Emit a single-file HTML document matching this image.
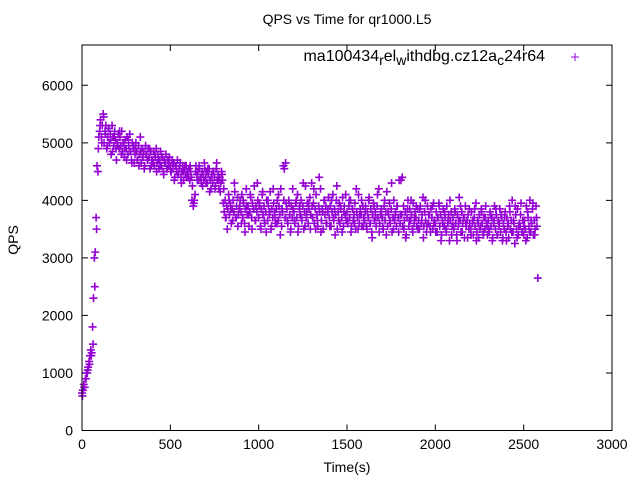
<!DOCTYPE html>
<html><head><meta charset="utf-8"><style>
html,body{margin:0;padding:0;background:#fff}
svg{display:block;font-family:"Liberation Sans",sans-serif}
</style></head><body>
<svg id="chart" width="640" height="480">
<text x="347" y="24" text-anchor="middle" font-size="14">QPS vs Time for qr1000.L5</text>
<text transform="translate(18,240) rotate(-90)" text-anchor="middle" font-size="14">QPS</text>
<text x="347" y="472" text-anchor="middle" font-size="14">Time(s)</text>
<g id="axes"></g>
<g id="points"></g>
<g>
<text x="545" y="61" text-anchor="end" font-size="16">ma100434<tspan font-size="14" dy="4">r</tspan><tspan dy="-4">el</tspan><tspan font-size="14" dy="4">w</tspan><tspan dy="-4">ithdbg.cz12a</tspan><tspan font-size="14" dy="4">c</tspan><tspan dy="-4">24r64</tspan></text>
<path d="M571,57h8M575,53v8" stroke="#9400d3" stroke-width="1"/>
</g>
<rect x="82" y="45" width="530" height="385.5" fill="none" stroke="#000" stroke-width="1"/>
</svg>
<script>
const xTicks=[0,500,1000,1500,2000,2500,3000];
const yTicks=[0,1000,2000,3000,4000,5000,6000];
const timeStep=5;
const qps=[
650,700,800,750,900,1000,1000,1100,1200,1300,1400,1350,1800,2300,3000,3100,3700,4600,4500,5100,
5200,5400,5100,5300,5500,5000,5200,5300,4900,5100,5250,5000,5150,4800,5300,5100,4950,5200,5050,4700,
5000,5150,4900,5100,4950,5200,4850,5000,4750,5050,4900,5100,4800,4950,5150,4850,4700,5000,4900,4650,
4800,5000,4850,4700,4950,4800,5100,4650,4900,4750,4850,4600,4950,4800,4700,4900,4750,4550,4850,4700,
4700,4850,4600,4750,4900,4650,4800,4550,4700,4850,4600,4750,4500,4700,4650,4800,4550,4700,4600,4750,
4600,4500,4700,4550,4650,4400,4600,4500,4700,4450,4550,4650,4400,4500,4600,4350,4550,4450,4600,4500,
4450,4550,4350,4500,4400,4250,3900,4000,4100,4600,4450,4500,4350,4550,4400,4300,4500,4450,4350,4550,
4400,4500,4300,4450,4550,4350,4200,4450,4300,4500,4400,4250,4550,4350,4450,4200,4400,4300,4500,4350,
3950,3800,4000,3700,3900,3850,4100,3750,3950,3600,3850,4000,3800,4150,3700,3900,4050,3750,3850,4000,
3800,4100,3700,3950,3600,3850,4200,3750,3900,3550,3800,4050,3700,3950,3850,4250,3650,3900,3800,4000,
3700,3950,3550,3850,4100,3750,3900,3600,3800,4000,3650,3900,3750,4150,3500,3850,3700,3950,3800,3600,
3850,4000,3650,3900,3750,4200,3550,3800,4600,4550,3700,3950,3850,3600,4000,3750,3450,3900,3700,3850,
3800,3600,3950,3700,4100,3550,3850,3750,4000,3650,3900,3500,3800,4250,3700,3950,3600,3850,4050,3750,
4300,3700,3950,3600,3850,4100,3750,3550,3900,3800,4200,3650,3850,3500,4000,3750,3900,3600,3800,4050,
3700,3900,3550,3800,4100,3650,3850,3750,4000,3500,3800,3950,3600,3850,3700,4050,3550,3900,3750,3650,
3800,3600,3900,3700,4000,3550,3850,3650,3750,3950,3500,3800,3700,4100,3600,3850,3750,3550,3900,3700,
3650,3900,3550,3800,3700,4050,3600,3850,3450,3750,3950,3650,3800,3550,3900,3700,4200,3600,3750,3850,
3700,3500,3900,3650,3800,4150,3550,3750,3950,3600,3850,3450,3700,4000,3650,3800,3550,3900,3700,4350,
3600,4350,3750,3550,3900,3650,3800,3400,3700,4000,3550,3850,3650,3750,3500,3950,3600,3800,3700,3550,
3850,3650,3500,3900,3600,3750,4050,3550,3800,3650,3450,3900,3600,3750,3550,3850,3700,3500,3950,3650,
3600,3800,3450,3700,3950,3550,3750,3400,3650,3850,3550,3700,3500,3900,3600,3750,3300,3650,3800,3550,
3700,3500,3850,3600,3400,3750,3550,4050,3650,3450,3800,3600,3700,3350,3900,3550,3650,3750,3500,3600,
3500,3800,3600,3400,3700,3550,3950,3450,3650,3350,3750,3550,3850,3600,3450,3700,3500,3900,3600,3400,
3650,3450,3800,3550,3700,3350,3600,3900,3500,3750,3400,3650,3550,3850,3450,3700,3300,3600,3500,3800,
3450,3700,3550,3350,3900,3500,3650,4000,3450,3600,3250,3750,3500,3850,3400,3600,3550,3950,3450,3650,
3400,3650,3500,3900,3350,3700,3550,4000,3450,3600,3850,3400,3650,3500,3900,3550,2650
];
const timeStep2=10;
const timeOffset2=2.5;
const qps2=[
600,750,900,1050,1150,1300,1500,2500,3500,4900,
5300,5000,5450,5150,4950,5250,5050,4850,5100,4900,
4950,5200,4800,5000,4900,4700,5050,4850,4650,4950,
4900,4700,4600,4850,4750,4550,4800,4700,4900,4600,
4650,4800,4500,4700,4600,4750,4450,4650,4550,4700,
4500,4650,4350,4600,4450,4550,4300,4500,4600,4400,
4400,4600,4000,3950,4500,4350,4600,4400,4250,4650,
4300,4550,4150,4400,4500,4200,4650,4350,4150,4450,
4200,3700,3500,4000,3850,3650,4300,3700,3550,3900,
3600,4000,3450,3900,3750,4100,3500,3850,3650,4300,
3900,3500,4150,3650,3450,4000,3800,3550,4200,3700,
3600,4100,3400,3850,4000,4650,3650,3950,3500,4200,
3650,4000,3450,3900,3700,4300,3550,3800,3950,3500,
3900,4200,3500,3650,4400,3450,3800,4000,3600,3850,
3550,4000,3700,3400,4250,3650,3900,3450,3800,4100,
3650,4000,3450,3850,3600,4200,3500,3750,4000,3550,
3800,3500,4000,3600,3350,3900,3700,4100,3450,3800,
3550,4000,3400,3800,3650,4300,3500,3750,3900,3450,
3750,4400,3500,3350,3850,3650,4000,3450,3700,3900,
3500,3850,3650,3350,4000,3550,3750,3450,3900,3600,
3450,3700,3900,3300,3600,3800,3450,3650,4000,3400,
3550,3800,3300,3650,3900,3450,3700,3600,3350,3850,
3400,3650,3850,3300,3600,3500,3800,3400,3700,3550,
3500,3750,3300,3650,3850,3400,3600,3750,3350,3700,
3300,3600,3800,3450,3650,3900,3350,3550,3750,3450,
3550,3300,3800,3450,3650,3950,3400,3700
];
const X0=82,X1=612,Y0=430.5,Y1=45,XMAX=3000,YMAX=6700;
function sx(v){return X0+(v/XMAX)*(X1-X0);}
function sy(v){return Y0-(v/YMAX)*(Y0-Y1);}
const NS="http://www.w3.org/2000/svg";
const axes=document.getElementById('axes');
xTicks.forEach(function(t){
  const x=sx(t);
  const p=document.createElementNS(NS,'path');
  p.setAttribute('d','M'+x+','+Y0+'v-6M'+x+','+Y1+'v6');
  p.setAttribute('stroke','#000');
  
  
  axes.appendChild(p);
  const tx=document.createElementNS(NS,'text');
  tx.setAttribute('x',x);tx.setAttribute('y',449);
  tx.setAttribute('text-anchor','middle');tx.setAttribute('font-size','14');
  tx.textContent=t;
  
  
  axes.appendChild(tx);
});
yTicks.forEach(function(t){
  const y=sy(t);
  const p=document.createElementNS(NS,'path');
  p.setAttribute('d','M'+X0+','+y+'h6M'+X1+','+y+'h-6');
  p.setAttribute('stroke','#000');
  
  
  axes.appendChild(p);
  const tx=document.createElementNS(NS,'text');
  tx.setAttribute('x',73);tx.setAttribute('y',y+5);
  tx.setAttribute('text-anchor','end');tx.setAttribute('font-size','14');
  tx.textContent=t;
  
  
  axes.appendChild(tx);
});
const pts=document.getElementById('points');
let d='';
function addPoint(t,v){
  const x=sx(t),y=sy(v);
  d+='M'+(x-4)+','+y+'h8M'+x+','+(y-4)+'v8';
}
qps.forEach(function(v,i){addPoint(i*timeStep,v);});
qps2.forEach(function(v,i){addPoint(timeOffset2+i*timeStep2,v);});
const path=document.createElementNS(NS,'path');
path.setAttribute('d',d);
path.setAttribute('stroke','#9400d3');
path.setAttribute('stroke-width','1.6');
path.setAttribute('fill','none');


pts.appendChild(path);
</script>
</body></html>
